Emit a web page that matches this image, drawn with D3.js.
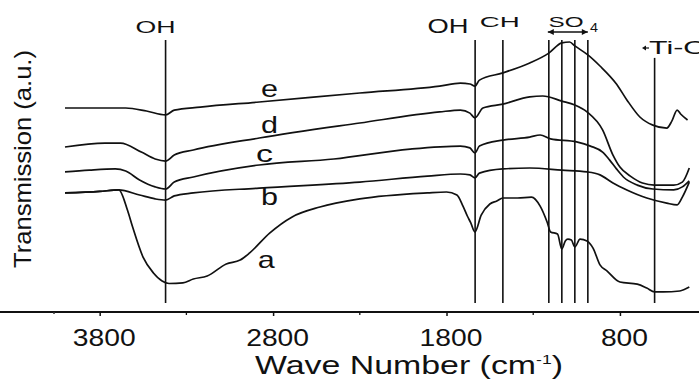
<!DOCTYPE html>
<html>
<head>
<meta charset="utf-8">
<script src="https://cdn.jsdelivr.net/npm/d3@7"></script>
<style>
  body { margin: 0; background: #fff; }
  svg { display: block; }
  text { font-family: "Liberation Sans", Arial, sans-serif; fill: #111; }
</style>
</head>
<body>
<script>
// IR spectra a-e: [wave number (cm-1), transmission (a.u.)]
var curveA = [[4000,39.7],[3800,40.2],[3690,40.7],[3640,34.0],[3610,28.3],[3550,18.3],[3490,13.0],[3440,10.3],[3400,9.5],
  [3320,9.7],[3260,11.0],[3180,12.0],[3070,16.0],[2990,17.3],[2935,19.7],[2820,26.3],[2690,31.7],[2530,35.0],
  [2300,37.7],[1910,39.7],[1800,40.0],[1740,39.0],[1705,35.3],[1680,32.0],[1660,29.7],[1636,26.7],[1600,32.3],
  [1550,36.0],[1510,37.0],[1475,38.0],[1390,38.0],[1310,38.3],[1260,35.3],[1220,30.0],[1200,26.7],[1160,26.0],
  [1135,21.0],[1115,23.7],[1100,24.3],[1080,24.0],[1060,21.7],[1030,24.3],[990,23.7],[955,21.3],[915,15.7],
  [875,13.7],[800,10.0],[700,9.3],[645,8.0],[600,6.7],[550,6.7],[455,7.0],[400,8.3]];
var curveB = [[4000,39.7],[3800,40.2],[3690,40.7],[3570,39.0],[3480,37.7],[3420,37.3],[3370,38.7],[3260,39.7],
  [2880,41.3],[2300,43.3],[1910,45.3],[1720,46.0],[1665,45.7],[1636,44.7],[1610,46.3],[1475,47.7],[1320,48.0],
  [1135,47.3],[990,46.7],[915,45.7],[840,43.0],[760,40.7],[645,38.0],[530,36.3],[470,35.7],[440,38.3],[400,43.3]];
var curveC = [[4000,46.7],[3860,47.3],[3710,47.7],[3650,47.0],[3570,44.0],[3480,41.7],[3420,41.0],[3370,43.3],
  [3260,45.0],[2880,49.0],[2450,51.0],[2010,54.3],[1720,55.3],[1665,54.7],[1636,53.0],[1610,55.3],[1475,57.3],
  [1320,58.3],[1260,59.0],[1200,57.7],[1050,56.7],[970,55.3],[900,53.3],[860,50.7],[820,47.7],[780,45.0],
  [700,42.3],[610,41.0],[490,40.7],[440,41.7],[400,43.7]];
var curveD = [[4000,55.0],[3770,56.3],[3680,56.3],[3560,53.3],[3480,51.0],[3420,50.3],[3370,52.3],[3260,54.0],
  [2880,58.0],[2300,63.0],[1840,66.7],[1720,67.3],[1665,66.3],[1636,64.7],[1590,68.0],[1475,69.3],[1320,71.7],
  [1245,72.0],[1135,70.3],[1060,69.0],[990,66.7],[900,60.7],[840,52.3],[800,48.3],[740,45.3],[670,43.0],
  [600,42.3],[490,42.3],[440,43.3],[400,48.0]];
var curveE = [[4000,68.0],[3800,68.0],[3650,68.0],[3530,67.0],[3420,65.7],[3370,67.3],[3220,68.3],[2880,70.0],
  [2300,73.0],[1840,75.3],[1720,76.3],[1665,76.0],[1636,75.3],[1610,77.3],[1475,79.7],[1320,83.0],[1210,86.3],
  [1135,89.7],[1090,90.0],[1060,88.7],[985,85.7],[915,82.0],[820,76.0],[760,70.7],[685,65.0],[610,62.3],
  [530,61.3],[500,63.7],[470,67.3],[450,66.0],[410,64.0]];
var seriesNames = ["a", "b", "c", "d", "e"];

// band markers (vertical lines) and where they stop at the top
var bandWaves = [3420, 1635, 1475, 1210, 1135, 1060, 985, 600];
var bandTops = [90.7, 90.7, 90.7, 90.7, 90.7, 90.7, 90.7, 84.7];

var tickWaves = [3800, 2800, 1800, 800];
var minorWaves = [3300, 2300, 1300];

var W = 699, H = 379;
var svg = d3.select("body").append("svg")
  .attr("width", W)
  .attr("height", H);

var x = d3.scaleLinear().domain([4000, 344]).range([65, 699]);
var y = d3.scaleLinear().domain([0, 100]).range([312, 12]);

var line = d3.line()
  .x(function (d) { return x(d[0]); })
  .y(function (d) { return y(d[1]); })
  .curve(d3.curveMonotoneX);

// vertical band lines
svg.selectAll("line.band")
  .data(bandWaves)
  .enter().append("line")
  .attr("class", "band")
  .attr("x1", function (d) { return x(d); })
  .attr("x2", function (d) { return x(d); })
  .attr("y1", function (d, i) { return y(bandTops[i]); })
  .attr("y2", y(3))
  .attr("stroke", "#111")
  .attr("stroke-width", 1.6);

// spectra
var curves = [curveA, curveB, curveC, curveD, curveE];
svg.selectAll("path.curve")
  .data(curves)
  .enter().append("path")
  .attr("class", "curve")
  .attr("d", line)
  .attr("fill", "none")
  .attr("stroke", "#111")
  .attr("stroke-width", 1.7)
  .attr("stroke-linejoin", "round");

// curve letters
var letterPos = [[2840, 14.7], [2820, 35.7], [2850, 50.0], [2820, 59.7], [2820, 71.7]];
svg.selectAll("text.lbl")
  .data(seriesNames)
  .enter().append("text")
  .attr("class", "lbl")
  .attr("x", function (d, i) { return x(letterPos[i][0]); })
  .attr("y", function (d, i) { return y(letterPos[i][1]); })
  .attr("text-anchor", "middle")
  .attr("font-size", 24)
  .attr("textLength", 17)
  .attr("lengthAdjust", "spacingAndGlyphs")
  .text(function (d) { return d; });

// x axis
var axisG = svg.append("g")
  .attr("transform", "translate(0,312)")
  .call(d3.axisBottom(x).tickValues(tickWaves).tickFormat(d3.format("d"))
    .tickSize(4).tickPadding(14).tickSizeOuter(0));
axisG.select(".domain").attr("stroke", "#111").attr("stroke-width", 1.8)
  .attr("d", "M-2,0H" + W);
axisG.selectAll(".tick line").attr("stroke", "#111").attr("stroke-width", 1.5);
axisG.selectAll(".tick text")
  .attr("font-family", "Liberation Sans, Arial, sans-serif")
  .attr("font-size", 23)
  .attr("fill", "#111")
  .attr("dx", 4)
  .attr("textLength", function (d) { return String(d).length * 15.7; })
  .attr("lengthAdjust", "spacingAndGlyphs");
axisG.selectAll(".minor")
  .data(minorWaves)
  .enter().append("line")
  .attr("class", "minor")
  .attr("x1", function (d) { return x(d); })
  .attr("x2", function (d) { return x(d); })
  .attr("y1", 0).attr("y2", 3)
  .attr("stroke", "#111").attr("stroke-width", 1.3);
svg.append("circle").attr("cx", 54).attr("cy", 313).attr("r", 1).attr("fill", "#333");

// axis titles
var xt = svg.append("text")
  .attr("x", 255).attr("y", 374)
  .attr("font-size", 25)
  .attr("textLength", 308)
  .attr("lengthAdjust", "spacingAndGlyphs");
xt.append("tspan").text("Wave Number (cm");
xt.append("tspan").attr("font-size", 13).attr("dy", -10).text("-1");
xt.append("tspan").attr("dy", 10).text(")");

svg.append("text")
  .attr("transform", "translate(31,159) rotate(-90)")
  .attr("text-anchor", "middle")
  .attr("font-size", 24)
  .attr("textLength", 218)
  .attr("lengthAdjust", "spacingAndGlyphs")
  .text("Transmission (a.u.)");

// band labels
function bandLabel(txt, cx, base, size, len) {
  return svg.append("text")
    .attr("x", cx).attr("y", base)
    .attr("text-anchor", "middle")
    .attr("font-size", size)
    .attr("textLength", len)
    .attr("lengthAdjust", "spacingAndGlyphs")
    .text(txt);
}
bandLabel("OH", x(bandWaves[0]) - 10, 33, 17, 40);
bandLabel("OH", x(bandWaves[1]) - 27, 33, 20, 41);
bandLabel("CH", x(bandWaves[2]) - 3, 27, 15, 40);
bandLabel("SO", 566, 27, 15, 35);
bandLabel("4", 594, 32, 12, 8);
svg.append("text")
  .attr("x", 649).attr("y", 54)
  .attr("font-size", 18)
  .attr("textLength", 58)
  .attr("lengthAdjust", "spacingAndGlyphs")
  .text("Ti-O");

// double arrow under SO4 spanning the sulfate bands
var ax0 = x(bandWaves[3]) - 1, ax1 = x(bandWaves[6]);
svg.append("line")
  .attr("x1", ax0).attr("x2", ax1).attr("y1", 32).attr("y2", 32)
  .attr("stroke", "#111").attr("stroke-width", 1.4);
svg.append("path")
  .attr("d", "M" + ax0 + ",32l6,-3v6z M" + ax1 + ",32l-6,-3v6z")
  .attr("fill", "#111");
// small arrow pointing at the Ti-O band
svg.append("path")
  .attr("d", "M642,48l4,-2.5v5z")
  .attr("fill", "#111");
svg.append("line")
  .attr("x1", 645).attr("x2", 649).attr("y1", 48).attr("y2", 48)
  .attr("stroke", "#111").attr("stroke-width", 1.2);
</script>
</body>
</html>
